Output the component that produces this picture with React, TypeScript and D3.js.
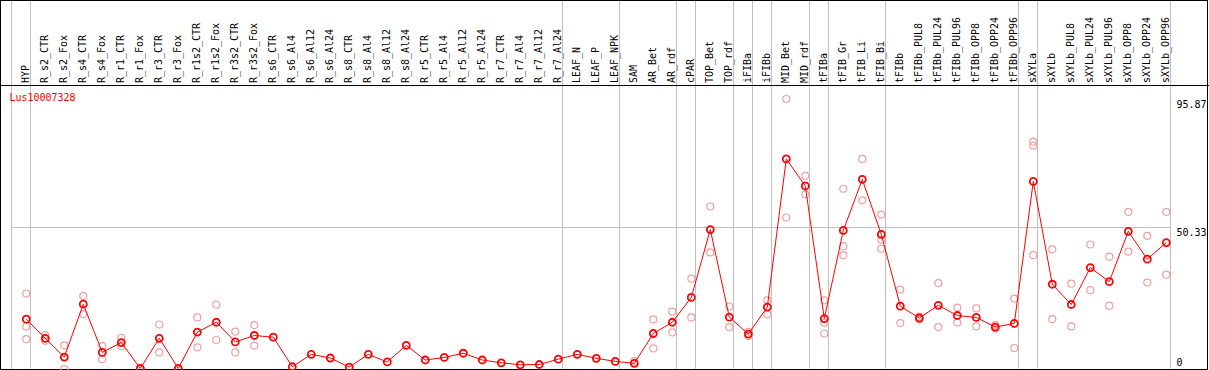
import * as React from 'react';
import * as d3 from 'd3';

const categories = [
  'HYP', 'R_s2_CTR', 'R_s2_Fox', 'R_s4_CTR', 'R_s4_Fox', 'R_r1_CTR', 'R_r1_Fox', 'R_r3_CTR', 'R_r3_Fox',
  'R_r1s2_CTR', 'R_r1s2_Fox', 'R_r3s2_CTR', 'R_r3s2_Fox', 'R_s6_CTR', 'R_s6_Al4', 'R_s6_Al12', 'R_s6_Al24',
  'R_s8_CTR', 'R_s8_Al4', 'R_s8_Al12', 'R_s8_Al24', 'R_r5_CTR', 'R_r5_Al4', 'R_r5_Al12', 'R_r5_Al24',
  'R_r7_CTR', 'R_r7_Al4', 'R_r7_Al12', 'R_r7_Al24', 'LEAF_N', 'LEAF_P', 'LEAF_NPK', 'SAM', 'AR_Bet', 'AR_rdf',
  'cPAR', 'TOP_Bet', 'TOP_rdf', 'iFIBa', 'iFIBb', 'MID_Bet', 'MID_rdf', 'tFIBa', 'tFIB_Gr', 'tFIB_Li', 'tFIB_Bi',
  'tFIBb', 'tFIBb_PUL8', 'tFIBb_PUL24', 'tFIBb_PUL96', 'tFIBb_OPP8', 'tFIBb_OPP24', 'tFIBb_OPP96', 'sXYLa',
  'sXYLb', 'sXYLb_PUL8', 'sXYLb_PUL24', 'sXYLb_PUL96', 'sXYLb_OPP8', 'sXYLb_OPP24', 'sXYLb_OPP96',
];

const means = [
  17.7, 10.9, 4.25, 23.0, 5.9, 9.4, 0.2, 10.9, 0.2, 13.1, 16.6, 9.6, 11.9, 11.3, 0.8, 5.2, 3.9,
  0.7, 5.2, 2.5, 8.4, 3.2, 4.1, 5.6, 3.2, 2.2, 1.5, 1.6, 3.5, 5.2, 3.8, 2.7, 2.0, 12.6, 16.6,
  25.4, 49.5, 18.4, 12.4, 22.0, 74.6, 65.0, 17.9, 49.2, 67.3, 47.8,
  22.3, 18.1, 22.6, 19.0, 18.3, 14.9, 16.2, 66.6,
  30.1, 22.9, 36.0, 31.0, 48.9, 39.0, 44.9,
];

const replicates = [
  [26.8, 15.1, 10.6], [12.0, 10.0], [8.4, 0], [25.9, 19.5], [8.1, 3.5], [11.1, 8.1], [0.2], [15.8, 5.9], [],
  [18.3, 7.7], [22.9, 10.3], [13.3, 5.9], [15.6, 8.3], [], [], [], [],
  [], [], [], [], [], [], [], [],
  [], [], [], [], [], [], [], [2.8], [17.6, 7.3], [20.4, 13.0],
  [32.1, 18.3], [57.7, 41.4], [22.2, 14.9], [13.2, 11.7], [24.4, 19.4], [95.87, 53.8], [68.6, 62.0],
  [24.4, 16.4, 12.6], [64.0, 43.6, 40.4], [74.6, 59.9], [54.8, 45.9, 42.7],
  [28.2, 16.3], [18.6, 17.6], [30.5, 14.9], [21.8, 16.5], [21.5, 15.1], [15.6, 14.4], [25.0, 7.4],
  [80.7, 79.3, 40.4],
  [42.5, 17.7], [30.3, 15.1], [44.2, 28.0], [39.9, 22.5], [55.8, 41.7], [47.3, 30.7], [55.8, 33.5],
];

// columns after which a grey separator is drawn
const groupEnds = ['HYP', 'R_r7_Al24', 'LEAF_NPK', 'AR_rdf', 'cPAR', 'TOP_rdf', 'iFIBa', 'iFIBb',
  'MID_rdf', 'tFIBa', 'tFIB_Bi', 'tFIBb_OPP96', 'sXYLa', 'sXYLb_OPP96'];

const yTicks = [95.87, 50.33, 0];
const gridValues = [50.33];
const geneName = 'Lus10007328';

const W = 1209;
const H = 370;
const FONT = '"DejaVu Sans Mono", monospace';

export default function App() {
  const x = d3.scalePoint<string>().domain(categories).range([26.3, 1166.3]);
  const step = x.step();
  const y = d3.scaleLinear().domain([0, 95.87]).range([369, 99]);
  const plotLeft = Math.round(x(categories[0])! - step + 4) + 0.5;
  const plotRight = Math.round(x(categories[categories.length - 1])! + 4) + 0.5;

  const line = d3.line<number>()
    .x((_, i) => x(categories[i])!)
    .y((d) => y(d));

  const labelW = (s: string) => s.length * 6;

  return (
    <svg width={W} height={H} style={{ position: 'absolute', left: 0, top: 0, background: '#fff' }}>
      <rect x={0} y={0} width={W} height={H} fill="#fff" />
      {/* vertical separators */}
      <line x1={plotLeft} x2={plotLeft} y1={0} y2={369} stroke="#c0c0c0" shapeRendering="crispEdges" />
      {groupEnds.map((c) => {
        const gx = Math.round(x(c)! + 4) + 0.5;
        return <line key={c} x1={gx} x2={gx} y1={0} y2={369} stroke="#c0c0c0" shapeRendering="crispEdges" />;
      })}
      {gridValues.map((v) => (
        <line key={v} x1={plotLeft} x2={plotRight} y1={Math.round(y(v)) + 0.5} y2={Math.round(y(v)) + 0.5}
          stroke="#c0c0c0" shapeRendering="crispEdges" />
      ))}
      {/* header line and frame */}
      <line x1={0} x2={W} y1={85.5} y2={85.5} stroke="#000" shapeRendering="crispEdges" />
      <rect x={0.5} y={0.5} width={W - 2} height={369} fill="none" stroke="#000" shapeRendering="crispEdges" />

      {/* column labels */}
      {categories.map((c) => (
        <text key={c} transform={`translate(${x(c)! + 2.5},83) rotate(-90)`} fontFamily={FONT} fontSize={11}
          textLength={labelW(c)} lengthAdjust="spacingAndGlyphs" fill="#000">{c}</text>
      ))}

      {/* right axis labels */}
      {yTicks.map((v) => (
        <text key={v} x={1176.5} y={v === 0 ? 366 : Math.round(y(v)) + 9} fontFamily={FONT} fontSize={10}
          fill="#000">{String(v)}</text>
      ))}

      <text x={9.5} y={101} fontFamily={FONT} fontSize={11} fill="#ff0000"
        textLength={labelW(geneName)} lengthAdjust="spacingAndGlyphs">{geneName}</text>

      {/* replicates */}
      {replicates.map((reps, i) => reps.map((v, j) => (
        <circle key={`${i}-${j}`} cx={x(categories[i])} cy={y(v)} r={3.5} fill="none" stroke="#f0a0a0" strokeWidth={1.2} />
      )))}

      <path d={line(means) || ''} fill="none" stroke="#ff0000" strokeWidth={1} />
      {means.map((v, i) => (
        <circle key={i} cx={x(categories[i])} cy={y(v)} r={3.5} fill="none" stroke="#ff0000" strokeWidth={1.8} />
      ))}
    </svg>
  );
}
